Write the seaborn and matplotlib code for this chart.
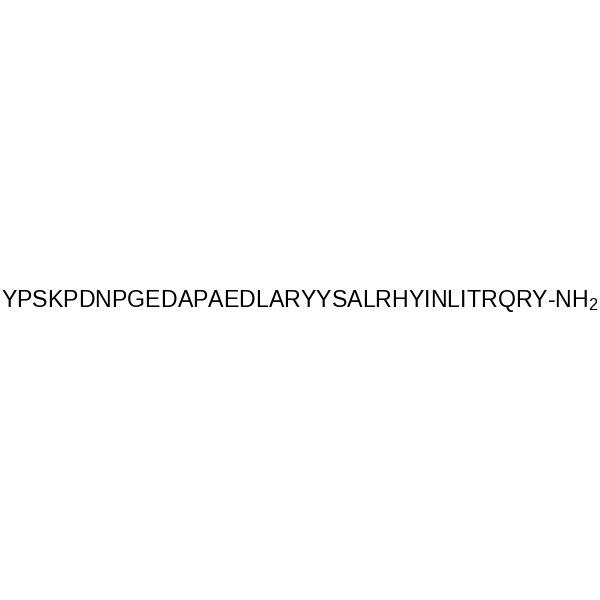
import matplotlib
matplotlib.use('Agg')
import matplotlib.pyplot as plt
import seaborn as sns

# Peptide sequence (one-letter residue codes) and C-terminal group
residues = list("YPSKPDNPGEDAPAEDLARYYSALRHYINLITRQRY")
c_term = "NH"
c_term_sub = "2"

sns.set_theme(style='white')
plt.rcParams['font.family'] = ['Liberation Sans', 'DejaVu Sans']
plt.rcParams['mathtext.fontset'] = 'custom'
plt.rcParams['mathtext.rm'] = 'Liberation Sans'
plt.rcParams['mathtext.it'] = 'Liberation Sans'

fig = plt.figure(figsize=(6, 6), dpi=100)
ax = fig.add_axes([0, 0, 1, 1])
ax.set_axis_off()
ax.set_xlim(0, 1)
ax.set_ylim(0, 1)

label = "".join(residues) + "-" + c_term + "$_{" + c_term_sub + "}$"
ax.text(0.4992, 0.4983, label, ha='center', va='center', fontsize=16.7, color='black')

fig.savefig('out.png', dpi=100, facecolor='white')
